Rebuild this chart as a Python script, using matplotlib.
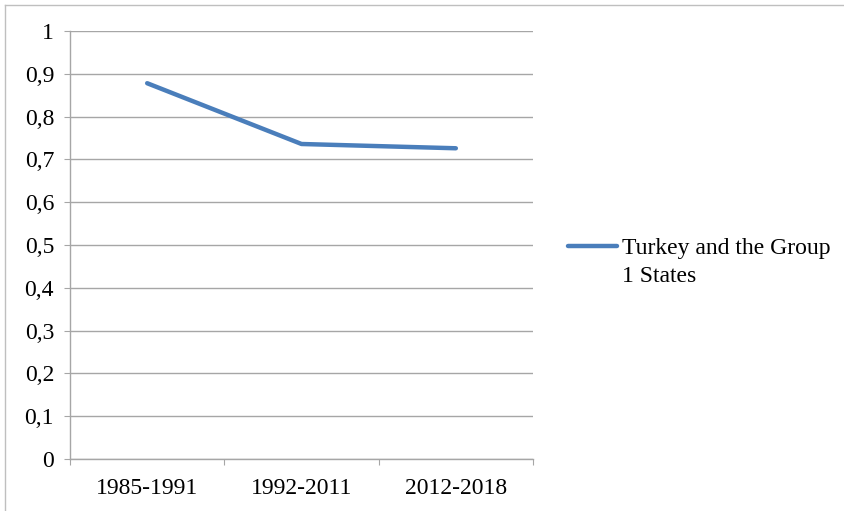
import matplotlib.pyplot as plt
from matplotlib.lines import Line2D

# Data
periods = ['1985-1991', '1992-2011', '2012-2018']
values = [0.878, 0.736, 0.726]
series_name = 'Turkey and the Group\n1 States'
y_ticks = [0, 0.1, 0.2, 0.3, 0.4, 0.5, 0.6, 0.7, 0.8, 0.9, 1]

plt.rcParams['font.family'] = ['Liberation Serif', 'DejaVu Serif']
grid_col = '#a6a6a6'
line_col = '#4a7ebb'

fig = plt.figure(figsize=(8.44, 5.11), dpi=100)
ax = fig.add_axes([70 / 844, 52 / 511, 463 / 844, 428 / 511])

x = [i + 0.5 for i in range(len(periods))]
ax.plot(x, values, color=line_col, linewidth=3.2, solid_capstyle='round', zorder=3)

ax.set_xlim(0, len(periods))
ax.set_ylim(0, 1)
ax.set_yticks(y_ticks)
ax.set_yticklabels(['0' if v == 0 else '1' if v == 1 else f'{v:.1f}'.replace('.', ',') for v in y_ticks])
ax.grid(axis='y', color=grid_col, linewidth=1)
ax.set_axisbelow(True)

# category labels at centers, tick marks at boundaries
ax.set_xticks(range(len(periods) + 1))
ax.set_xticklabels([])
ax.set_xticks(x, minor=True)
ax.set_xticklabels(periods, minor=True)
ax.tick_params(axis='x', which='minor', length=0, pad=14, labelsize=17)
ax.tick_params(axis='x', which='major', length=4.5, color=grid_col, direction='out')
ax.tick_params(axis='y', length=4.5, color=grid_col, labelsize=17, pad=7)

for s in ['top', 'right']:
    ax.spines[s].set_visible(False)
for s in ['left', 'bottom']:
    ax.spines[s].set_color(grid_col)
    ax.spines[s].set_linewidth(1)

# legend drawn by hand
fig.add_artist(Line2D([568 / 844, 617 / 844], [1 - 246 / 511] * 2, color=line_col,
                      linewidth=3.2, solid_capstyle='round'))
fig.text(622 / 844, 1 - 238 / 511, series_name, fontsize=17, va='top', ha='left',
         linespacing=1.42)

# outer frame
fig.add_artist(Line2D([5 / 844, 5 / 844], [0, 1 - 5 / 511], color='#bfbfbf', linewidth=1))
fig.add_artist(Line2D([5 / 844, 1], [1 - 5 / 511] * 2, color='#bfbfbf', linewidth=1))

fig.savefig('out.png', dpi=100)
